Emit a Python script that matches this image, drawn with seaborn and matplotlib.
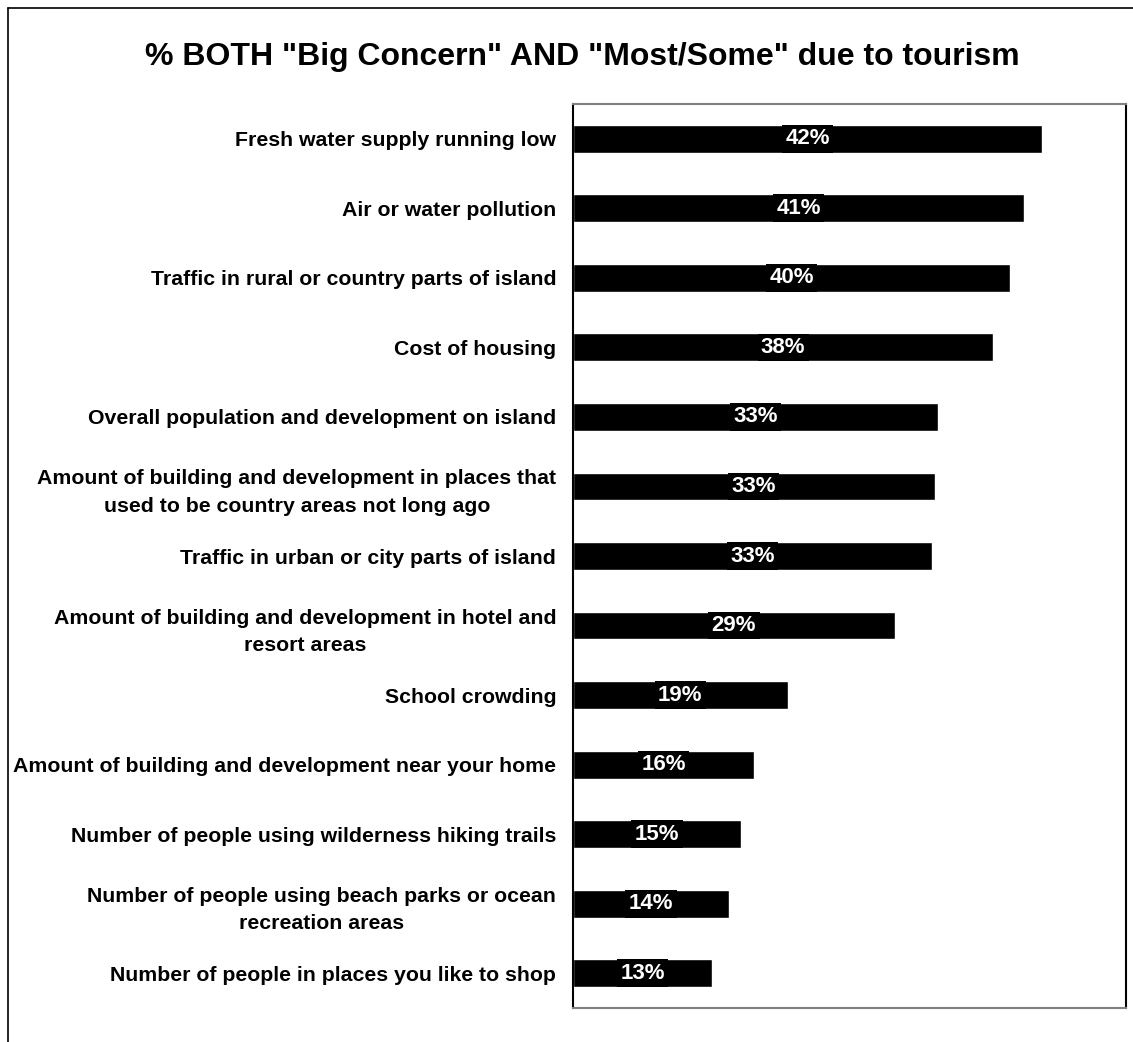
import matplotlib
matplotlib.use("Agg")
import matplotlib.pyplot as plt
import seaborn as sns
import pandas as pd
from matplotlib.lines import Line2D

categories = [
    "Fresh water supply running low",
    "Air or water pollution",
    "Traffic in rural or country parts of island",
    "Cost of housing",
    "Overall population and development on island",
    "Amount of building and development in places that\nused to be country areas not long ago",
    "Traffic in urban or city parts of island",
    "Amount of building and development in hotel and\nresort areas",
    "School crowding",
    "Amount of building and development near your home",
    "Number of people using wilderness hiking trails",
    "Number of people using beach parks or ocean\nrecreation areas",
    "Number of people in places you like to shop",
]
values = [42.4, 40.8, 39.5, 38.0, 33.0, 32.7, 32.5, 29.1, 19.4, 16.4, 15.2, 14.1, 12.6]
value_labels = ["42%", "41%", "40%", "38%", "33%", "33%", "33%", "29%", "19%", "16%", "15%", "14%", "13%"]
title = '% BOTH "Big Concern" AND "Most/Some" due to tourism'

df = pd.DataFrame({"category": categories, "value": values})

sns.set_theme(style="white")
plt.rcParams['font.family'] = ['Liberation Sans', 'DejaVu Sans']
plt.rcParams['text.color'] = 'black'
plt.rcParams['ytick.color'] = 'black'

W, H = 1133, 1042
fig = plt.figure(figsize=(W / 100, H / 100), dpi=100)
ax = fig.add_axes([573 / W, 1 - 1008 / H, (1126 - 573) / W, (1008 - 104) / H])

sns.barplot(data=df, x="value", y="category", orient="h", color="black",
            width=0.4, saturation=1, ax=ax)

ax.set_xlim(0, 50)
ax.set_xticks([])
ax.set_xlabel("")
ax.set_ylabel("")
ax.tick_params(axis="y", length=0, pad=12)
for lbl in ax.get_yticklabels():
    lbl.set_fontsize(15.3)
    lbl.set_fontweight("bold")
    lbl.set_color("black")
    lbl.set_multialignment("center")
    lbl.set_linespacing(1.55)

for i, (v, t) in enumerate(zip(values, value_labels)):
    ax.text(v / 2, i, t, ha="center", va="center", color="white",
            fontsize=16, fontweight="bold",
            bbox=dict(boxstyle="square,pad=0.15", fc="black", ec="none"))

for side in ["left", "right"]:
    ax.spines[side].set_color("black")
    ax.spines[side].set_linewidth(1.5)
for side in ["top", "bottom"]:
    ax.spines[side].set_color("#808080")
    ax.spines[side].set_linewidth(1.5)

fig.text(582 / W, 1 - 57 / H, title, ha="center", va="center",
         fontsize=23, fontweight="bold", color="black")

# outer frame (left and top edges visible)
fig.add_artist(Line2D([8 / W, 8 / W], [0, 1 - 8 / H], transform=fig.transFigure,
                      color="black", lw=1.2))
fig.add_artist(Line2D([8 / W, 1], [1 - 8 / H, 1 - 8 / H], transform=fig.transFigure,
                      color="black", lw=1.2))

fig.savefig("out.png", dpi=100)
